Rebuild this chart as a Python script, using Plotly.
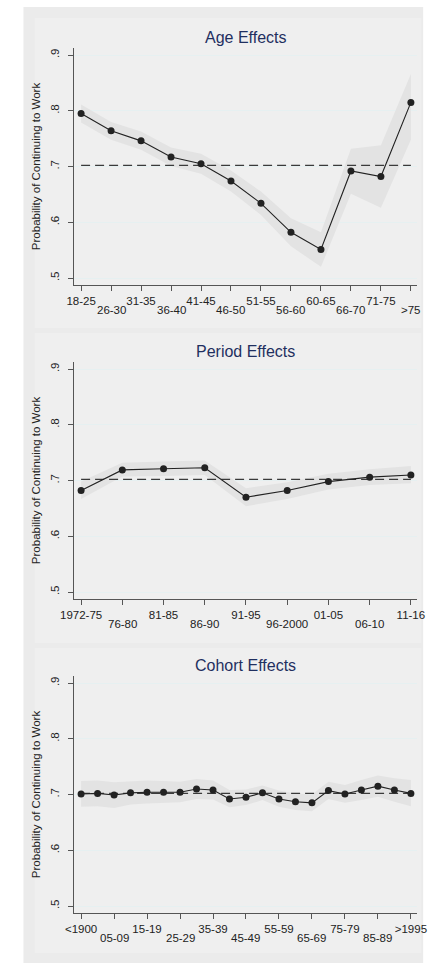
import plotly.graph_objects as go

W, H = 436, 965
FONT = "Liberation Sans, Arial, sans-serif"

# ---------------- data ----------------
age_labels = ["18-25", "26-30", "31-35", "36-40", "41-45", "46-50", "51-55",
              "56-60", "60-65", "66-70", "71-75", ">75"]
age_est = [0.795, 0.764, 0.746, 0.717, 0.705, 0.674, 0.634, 0.582, 0.551, 0.692, 0.682, 0.815]
age_lo = [0.779, 0.748, 0.730, 0.701, 0.687, 0.655, 0.613, 0.557, 0.520, 0.651, 0.626, 0.748]
age_hi = [0.811, 0.780, 0.763, 0.734, 0.723, 0.693, 0.655, 0.607, 0.582, 0.732, 0.738, 0.866]

period_labels = ["1972-75", "76-80", "81-85", "86-90", "91-95", "96-2000", "01-05", "06-10", "11-16"]
period_est = [0.682, 0.719, 0.721, 0.723, 0.670, 0.682, 0.698, 0.706, 0.710]
period_lo = [0.667, 0.707, 0.708, 0.710, 0.654, 0.667, 0.684, 0.692, 0.695]
period_hi = [0.698, 0.732, 0.734, 0.736, 0.686, 0.697, 0.712, 0.720, 0.726]

cohort_labels = ["<1900", "1900-04", "05-09", "10-14", "15-19", "20-24", "25-29", "30-34",
                 "35-39", "40-44", "45-49", "50-54", "55-59", "60-64", "65-69", "70-74",
                 "75-79", "80-84", "85-89", "90-94", ">1995"]
cohort_est = [0.701, 0.702, 0.699, 0.703, 0.704, 0.704, 0.704, 0.710, 0.708, 0.692, 0.695,
              0.703, 0.692, 0.687, 0.685, 0.707, 0.701, 0.708, 0.715, 0.708, 0.702]
cohort_lo = [0.678, 0.679, 0.676, 0.682, 0.684, 0.685, 0.686, 0.692, 0.691, 0.677, 0.681,
             0.690, 0.678, 0.672, 0.670, 0.692, 0.685, 0.690, 0.696, 0.687, 0.679]
cohort_hi = [0.724, 0.725, 0.722, 0.724, 0.725, 0.724, 0.723, 0.728, 0.725, 0.708, 0.709,
             0.716, 0.707, 0.702, 0.700, 0.723, 0.717, 0.726, 0.734, 0.729, 0.726]

mean_level = 0.702
y_ticks = [0.5, 0.6, 0.7, 0.8, 0.9]
y_ticktext = [".5", ".6", ".7", ".8", ".9"]
titles = ["Age Effects", "Period Effects", "Cohort Effects"]
y_title = "Probability of Continuing to Work"

panels = [
    dict(labels=age_labels, est=age_est, lo=age_lo, hi=age_hi, step=1, top=48, bottom=285),
    dict(labels=period_labels, est=period_est, lo=period_lo, hi=period_hi, step=1, top=362, bottom=599),
    dict(labels=cohort_labels, est=cohort_est, lo=cohort_lo, hi=cohort_hi, step=2, top=676, bottom=913),
]

PLOT_L, PLOT_R = 63, 427
FIRST_X, LAST_X = 71, 420
px_per_unit_y = 223 / 0.4
YR = [0.5 - 7 / px_per_unit_y, 0.9 + 7 / px_per_unit_y]

fig = go.Figure()
shapes = []
annotations = []

# background
shapes.append(dict(type="rect", xref="paper", yref="paper", x0=10 / W, x1=433 / W,
                   y0=1 - 963 / H, y1=1 - 7 / H, fillcolor="#ebebeb", line_width=0, layer="below"))
for (t, b) in [(18, 328), (333, 643), (648, 953)]:
    shapes.append(dict(type="rect", xref="paper", yref="paper", x0=22 / W, x1=431 / W,
                       y0=1 - b / H, y1=1 - t / H, fillcolor="#efefef", line_width=0, layer="below"))

for i, p in enumerate(panels):
    k = "" if i == 0 else str(i + 1)
    xa, ya = "x" + k, "y" + k
    n = len(p["labels"])
    xs = list(range(n))
    ppu = (LAST_X - FIRST_X) / (n - 1)
    xr = [-(FIRST_X - PLOT_L) / ppu, (n - 1) + (PLOT_R - LAST_X) / ppu]

    fig.add_trace(go.Scatter(x=xs, y=p["hi"], mode="lines", line=dict(width=0),
                             xaxis=xa, yaxis=ya, showlegend=False, hoverinfo="skip"))
    fig.add_trace(go.Scatter(x=xs, y=p["lo"], mode="lines", line=dict(width=0),
                             fill="tonexty", fillcolor="#e3e3e3",
                             xaxis=xa, yaxis=ya, showlegend=False, hoverinfo="skip"))
    fig.add_trace(go.Scatter(x=[xs[0], xs[-1]], y=[mean_level, mean_level], mode="lines",
                             line=dict(color="#3a3a3a", width=1.4, dash="9px,5px"),
                             xaxis=xa, yaxis=ya, showlegend=False))
    fig.add_trace(go.Scatter(x=xs, y=p["est"], mode="lines+markers",
                             line=dict(color="#222222", width=1.1),
                             marker=dict(color="#222222", size=7),
                             xaxis=xa, yaxis=ya, showlegend=False))

    tick_idx = list(range(0, n, p["step"]))
    ticktext = []
    for j, ti in enumerate(tick_idx):
        if j % 2 == 0:
            ticktext.append(p["labels"][ti])
        else:
            ticktext.append("")
            annotations.append(dict(x=ti, y=0, xref=xa, yref=ya + " domain",
                                    text=p["labels"][ti], showarrow=False,
                                    yanchor="top", yshift=-17,
                                    font=dict(family=FONT, size=11.5, color="#222222")))

    dom_y = [1 - p["bottom"] / H, 1 - p["top"] / H]
    fig.layout["xaxis" + k] = dict(
        domain=[PLOT_L / W, PLOT_R / W], range=xr, anchor=ya,
        tickmode="array", tickvals=tick_idx, ticktext=ticktext,
        ticks="outside", ticklen=5, tickcolor="#555555", tickwidth=1,
        showline=True, linecolor="#555555", linewidth=1, showgrid=False, zeroline=False,
        tickfont=dict(family=FONT, size=11.5, color="#222222"), fixedrange=True)
    fig.layout["yaxis" + k] = dict(
        domain=dom_y, range=YR, anchor=xa,
        tickmode="array", tickvals=y_ticks, ticktext=y_ticktext, tickangle=-90,
        ticks="outside", ticklen=5, tickcolor="#555555", tickwidth=1,
        ticklabelstandoff=4,
        showline=True, linecolor="#555555", linewidth=1,
        showgrid=True, gridcolor="#e6f0f1", gridwidth=1, zeroline=False,
        tickfont=dict(family=FONT, size=11.5, color="#222222"),
        title=dict(text=y_title, font=dict(family=FONT, size=11.5, color="#222222"), standoff=5),
        fixedrange=True)

    annotations.append(dict(x=(PLOT_L + PLOT_R) / 2 / W, y=1 - (p["top"] - 11) / H,
                            xref="paper", yref="paper", text=titles[i], showarrow=False,
                            yanchor="middle", xanchor="center",
                            font=dict(family=FONT, size=16, color="#1f2f5f")))

fig.update_layout(width=W, height=H, margin=dict(l=0, r=0, t=0, b=0),
                  paper_bgcolor="white", plot_bgcolor="white",
                  shapes=shapes, annotations=annotations, showlegend=False)

fig.write_html("out.html")
